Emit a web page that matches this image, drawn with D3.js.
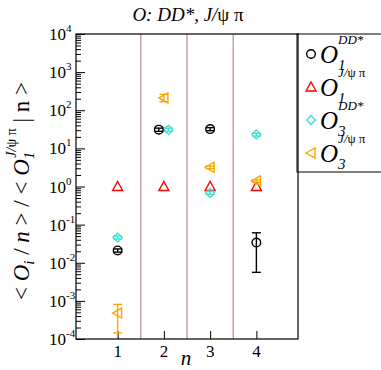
<!DOCTYPE html>
<html><head><meta charset="utf-8">
<script src="https://cdn.jsdelivr.net/npm/d3@7"></script>
<style>body{margin:0;background:#fff}</style>
</head><body><svg id="c" width="381" height="370" font-family="Liberation Serif"></svg>
<script>
const xTicks = [1, 2, 3, 4];
const yTickExps = [-4, -3, -2, -1, 0, 1, 2, 3, 4];
const separators = [1.5, 2.5, 3.5];

// O1 DD*  (black circles)
const o1ddN = [1, 1.89, 3, 4];
const o1ddV = [0.021, 31, 32, 0.034];
const o1ddLo = [0.019, 28, 29, 0.0056];
const o1ddHi = [0.023, 34, 35, 0.061];
// O1 J/psi pi (red triangles)
const o1jpN = [1, 2, 3, 4];
const o1jpV = [1, 1, 1, 1];
// O3 DD* (cyan diamonds)
const o3ddN = [1, 2.1, 3, 4];
const o3ddV = [0.046, 31, 0.68, 23];
const o3ddLo = [0.042, 28, 0.62, 21];
const o3ddHi = [0.050, 34, 0.74, 25];
// O3 J/psi pi (orange left triangles)
const o3jpN = [1, 2, 3, 4];
const o3jpV = [0.00048, 210, 3.2, 1.4];
const o3jpLo = [0.000145, 168, 2.95, 1.3];
const o3jpHi = [0.00081, 260, 3.45, 1.5];

const FF = "Liberation Serif";
const svg = d3.select("#c");
const L = 76, R = 298, T = 34, B = 339;
const x = d3.scaleLinear().domain([0.1, 4.9]).range([L, R]);
const y = d3.scaleLog().domain([1e-4, 1e4]).range([B, T]);

function txt(sel) { return sel.append("text").attr("font-family", FF); }

// separators
svg.selectAll(".sep").data(separators).enter().append("line")
  .attr("x1", d => x(d)).attr("x2", d => x(d)).attr("y1", T).attr("y2", B)
  .attr("stroke", "#c9a3a3").attr("stroke-width", 1.5);

// legend box
svg.append("rect").attr("x", 297).attr("y", T).attr("width", 100).attr("height", 138)
  .attr("fill", "#fff").attr("stroke", "#000").attr("stroke-width", 1);

// frame
svg.append("rect").attr("x", L).attr("y", T).attr("width", R - L).attr("height", B - T)
  .attr("fill", "none").attr("stroke", "#000").attr("stroke-width", 1.2);

// y axis ticks (inward)
const yAx = d3.axisRight(y).tickValues(yTickExps.map(e => Math.pow(10, e))).tickSize(9).tickFormat("");
const gy = svg.append("g").attr("transform", `translate(${L},0)`).call(yAx);
gy.select(".domain").remove();
const minor = [];
yTickExps.slice(0, -1).forEach(e => { for (let k = 2; k <= 9; k++) minor.push(k * Math.pow(10, e)); });
const yMin = d3.axisRight(y).tickValues(minor).tickSize(5).tickFormat("");
const gym = svg.append("g").attr("transform", `translate(${L},0)`).call(yMin);
gym.select(".domain").remove();
svg.selectAll(".tick line").attr("stroke", "#000").attr("stroke-width", 1);

// y tick labels
yTickExps.forEach(e => {
  const t = txt(svg).attr("x", 49).attr("y", y(Math.pow(10, e)) + 6).attr("font-size", 17);
  t.append("tspan").text("10");
  t.append("tspan").attr("font-size", 11).attr("dy", -8).text(e);
});

// x axis ticks (inward)
const xAx = d3.axisTop(x).tickValues(xTicks).tickSize(8).tickFormat("");
const gx = svg.append("g").attr("transform", `translate(0,${B})`).call(xAx);
gx.select(".domain").remove();
gx.selectAll(".tick line").attr("stroke", "#000").attr("stroke-width", 1);
xTicks.forEach(d => txt(svg).attr("x", x(d)).attr("y", 357).attr("text-anchor", "middle").attr("font-size", 17).text(d));
txt(svg).attr("x", 186).attr("y", 365).attr("text-anchor", "middle")
  .attr("font-size", 21).attr("font-style", "italic").text("n");

// title
const title = txt(svg).attr("x", 188).attr("y", 21).attr("text-anchor", "middle").attr("font-size", 19);
title.append("tspan").attr("font-style", "italic").text("O: DD*, J/");
title.append("tspan").text("ψ π");

// y label
const yl = txt(svg).attr("transform", "translate(29,191) rotate(-90)")
  .attr("text-anchor", "middle").attr("font-size", 23);
yl.append("tspan").text("< ");
yl.append("tspan").attr("font-style", "italic").text("O");
yl.append("tspan").attr("font-style", "italic").attr("font-size", 15).attr("dy", 5).text("i");
yl.append("tspan").attr("dy", -5).text(" / ");
yl.append("tspan").attr("font-style", "italic").text("n");
yl.append("tspan").text(" > / < ");
yl.append("tspan").attr("font-style", "italic").text("O");
yl.append("tspan").attr("font-style", "italic").attr("font-size", 15).attr("dy", 5).text("1");
yl.append("tspan").attr("font-style", "italic").attr("font-size", 14).attr("dy", -18).attr("dx", -6).text("J/");
yl.append("tspan").attr("font-size", 14).text("ψ π");
yl.append("tspan").attr("dy", 13).text(" | n >");

// markers
function marker(g, type, color) {
  if (type === "circle") g.append("circle").attr("r", 4.3).attr("fill", "none").attr("stroke", color).attr("stroke-width", 1.4);
  else if (type === "tri") g.append("path").attr("d", "M0,-5L5,4L-5,4Z").attr("fill", "none").attr("stroke", color).attr("stroke-width", 1.4);
  else if (type === "dia") g.append("path").attr("d", "M0,-4.5L4.5,0L0,4.5L-4.5,0Z").attr("fill", "none").attr("stroke", color).attr("stroke-width", 1.4);
  else if (type === "ltri") g.append("path").attr("d", "M-5,0L4,-5L4,5Z").attr("fill", "none").attr("stroke", color).attr("stroke-width", 1.4);
}
function series(ns, vs, lo, hi, type, color) {
  const g = svg.append("g");
  ns.forEach((n, i) => {
    if (lo) {
      const cx = x(n), y1 = y(lo[i]), y2 = y(hi[i]);
      g.append("line").attr("x1", cx).attr("x2", cx).attr("y1", y1).attr("y2", y2).attr("stroke", color).attr("stroke-width", 1.4);
      [y1, y2].forEach(yy => g.append("line").attr("x1", cx - 4.5).attr("x2", cx + 4.5).attr("y1", yy).attr("y2", yy).attr("stroke", color).attr("stroke-width", 1.4));
    }
    const m = g.append("g").attr("transform", `translate(${x(n)},${y(vs[i])})`);
    marker(m, type, color);
  });
}
series(o1jpN, o1jpV, null, null, "tri", "#ff0000");
series(o3ddN, o3ddV, o3ddLo, o3ddHi, "dia", "#40e0d0");
series(o3jpN, o3jpV, o3jpLo, o3jpHi, "ltri", "#ffa500");
series(o1ddN, o1ddV, o1ddLo, o1ddHi, "circle", "#000000");

// legend
const legItems = [
  {type: "circle", color: "#000000", sub: "1", sup: "DD*"},
  {type: "tri", color: "#ff0000", sub: "1", sup: "J/ψ π"},
  {type: "dia", color: "#40e0d0", sub: "3", sup: "DD*"},
  {type: "ltri", color: "#ffa500", sub: "3", sup: "J/ψ π"}
];
legItems.forEach((it, i) => {
  const cy = 54 + i * 33;
  const m = svg.append("g").attr("transform", `translate(311,${cy})`);
  marker(m, it.type, it.color);
  const t = txt(svg).attr("x", 320).attr("y", cy + 9).attr("font-size", 25);
  t.append("tspan").attr("font-style", "italic").text("O");
  t.append("tspan").attr("font-style", "italic").attr("font-size", 15).attr("dy", 7).text(it.sub);
  if (it.sup === "DD*") {
    t.append("tspan").attr("x", 338).attr("dy", -26).attr("font-style", "italic").attr("font-size", 13).text("DD*");
  } else {
    t.append("tspan").attr("x", 338).attr("dy", -26).attr("font-style", "italic").attr("font-size", 13).text("J/");
    t.append("tspan").attr("font-size", 13).text("ψ π");
  }
});
</script></body></html>
